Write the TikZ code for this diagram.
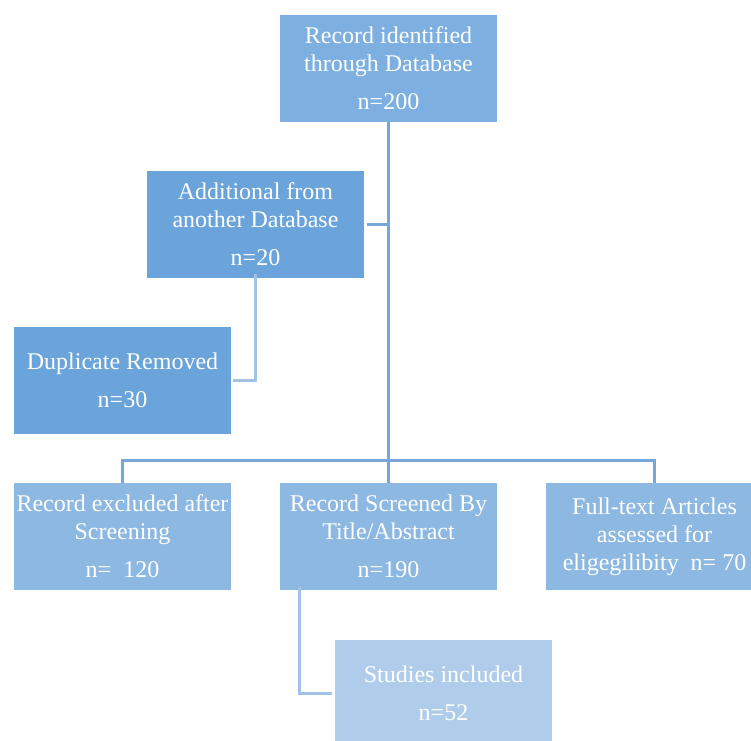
\documentclass[tikz,border=0pt]{standalone}
\usepackage{fontspec}
\setmainfont{Liberation Serif}
\definecolor{topblue}{HTML}{7DAFE0}
\definecolor{midblue}{HTML}{6AA4DA}
\definecolor{rowblue}{HTML}{8DB8E2}
\definecolor{paleblue}{HTML}{AFCDEA}
\definecolor{linkblue}{HTML}{76A6DA}
\definecolor{lightlink}{HTML}{A3C3E6}
\begin{document}
\begin{tikzpicture}[x=1pt, y=-1pt,
    box/.style={fill=#1, text=white, minimum width=217pt, minimum height=107pt,
      inner sep=0pt, align=center, font=\fontsize{24}{28}\selectfont},
    link/.style={draw=linkblue, line width=3pt},
    softlink/.style={draw=lightlink, line width=3pt}]
    \useasboundingbox (0, 0) rectangle (751, 740);
    \clip (0, 0) rectangle (751, 740);

    \node[box=topblue] (found) at (388.5, 68.5) {Record identified\\through Database\\[10pt]n=200};
    \node[box=midblue] (extra) at (255.5, 224.5) {Additional from\\another Database\\[10pt]n=20};
    \node[box=midblue] (dupes) at (122.5, 380.5) {Duplicate Removed\\[10pt]n=30};
    \node[box=rowblue] (excluded) at (122.5, 536.5) {Record excluded after\\Screening\\[10pt]n=\ \ 120};
    \node[box=rowblue] (screened) at (388.5, 536.5) {Record Screened By\\Title/Abstract\\[10pt]n=190};
    \node[box=rowblue] (fulltext) at (654.5, 536.5) {Full-text Articles\\assessed for\\eligegilibity\ \ n= 70};
    \node[box=paleblue] (included) at (443.5, 693.5) {Studies included\\[10pt]n=52};

    \coordinate (bus) at (388.5, 460);

    \draw[link] (found.south) -- (screened.north);
    \draw[link] ([xshift=3pt]extra.east) -- (extra.east -| found.south);
    \draw[link] (excluded.north) |- (bus) -| (fulltext.north);
    \draw[softlink] ([yshift=4pt]extra.south) |- ([xshift=2pt]dupes.east);
    \draw[softlink] ([xshift=20pt, yshift=3pt]screened.south west) |- ([xshift=-3pt]included.west);
  \end{tikzpicture}
\end{document}
